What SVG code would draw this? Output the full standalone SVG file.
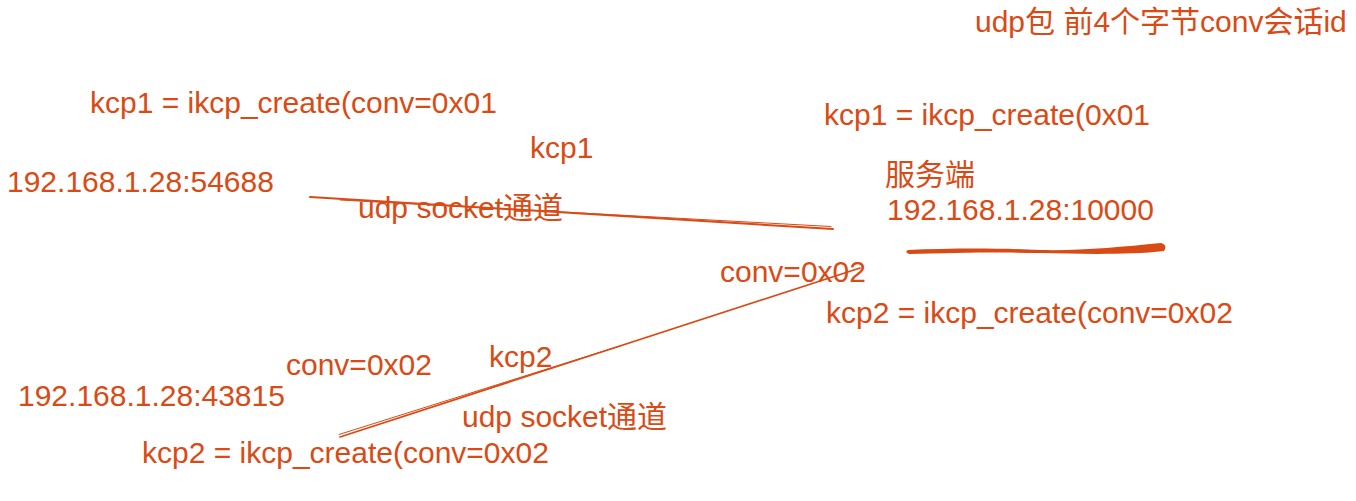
<svg xmlns="http://www.w3.org/2000/svg" width="1356" height="501" viewBox="0 0 1356 501">
<style>
text{font-family:"Liberation Sans","Noto Sans CJK SC",sans-serif;font-size:30px;fill:#DA4A14}
.ln{stroke:#DA4A14;fill:none;stroke-linecap:round}
</style>
<rect width="1356" height="501" fill="#fff"/>
<g id="header"><text x="975" y="32">udp包 前4个字节conv会话id</text></g>
<g id="client1">
<text x="90" y="113">kcp1 = ikcp_create(conv=0x01</text>
<text x="7" y="192">192.168.1.28:54688</text>
</g>
<g id="server">
<text x="824" y="125">kcp1 = ikcp_create(0x01</text>
<text x="885" y="185">服务端</text>
<text x="887" y="220">192.168.1.28:10000</text>
<path d="M908 250 C950 248 1000 248 1040 250 C1080 251 1120 247 1161 243 Q1168 245 1164 251 C1130 255 1080 254 1040 253 C1000 252 950 253 909 254 Q904 252 908 250 Z" fill="#DA4A14"/>
<text x="826" y="323">kcp2 = ikcp_create(conv=0x02</text>
</g>
<g id="client2">
<text x="18" y="406">192.168.1.28:43815</text>
<text x="142" y="463">kcp2 = ikcp_create(conv=0x02</text>
</g>
<g id="connectors">
<line class="ln" x1="310" y1="197" x2="833" y2="229" stroke-width="2"/>
<line class="ln" x1="340" y1="200" x2="831" y2="226.5" stroke-width="1"/>
<line class="ln" x1="340" y1="437" x2="860" y2="268" stroke-width="1.7"/>
<line class="ln" x1="339" y1="434.5" x2="620" y2="346" stroke-width="1"/>
</g>
<g id="labels">
<text x="530" y="158">kcp1</text>
<text x="358" y="218">udp socket通道</text>
<text x="720" y="282">conv=0x02</text>
<text x="286" y="375">conv=0x02</text>
<text x="489" y="367">kcp2</text>
<text x="462" y="427">udp socket通道</text>
</g>
</svg>
